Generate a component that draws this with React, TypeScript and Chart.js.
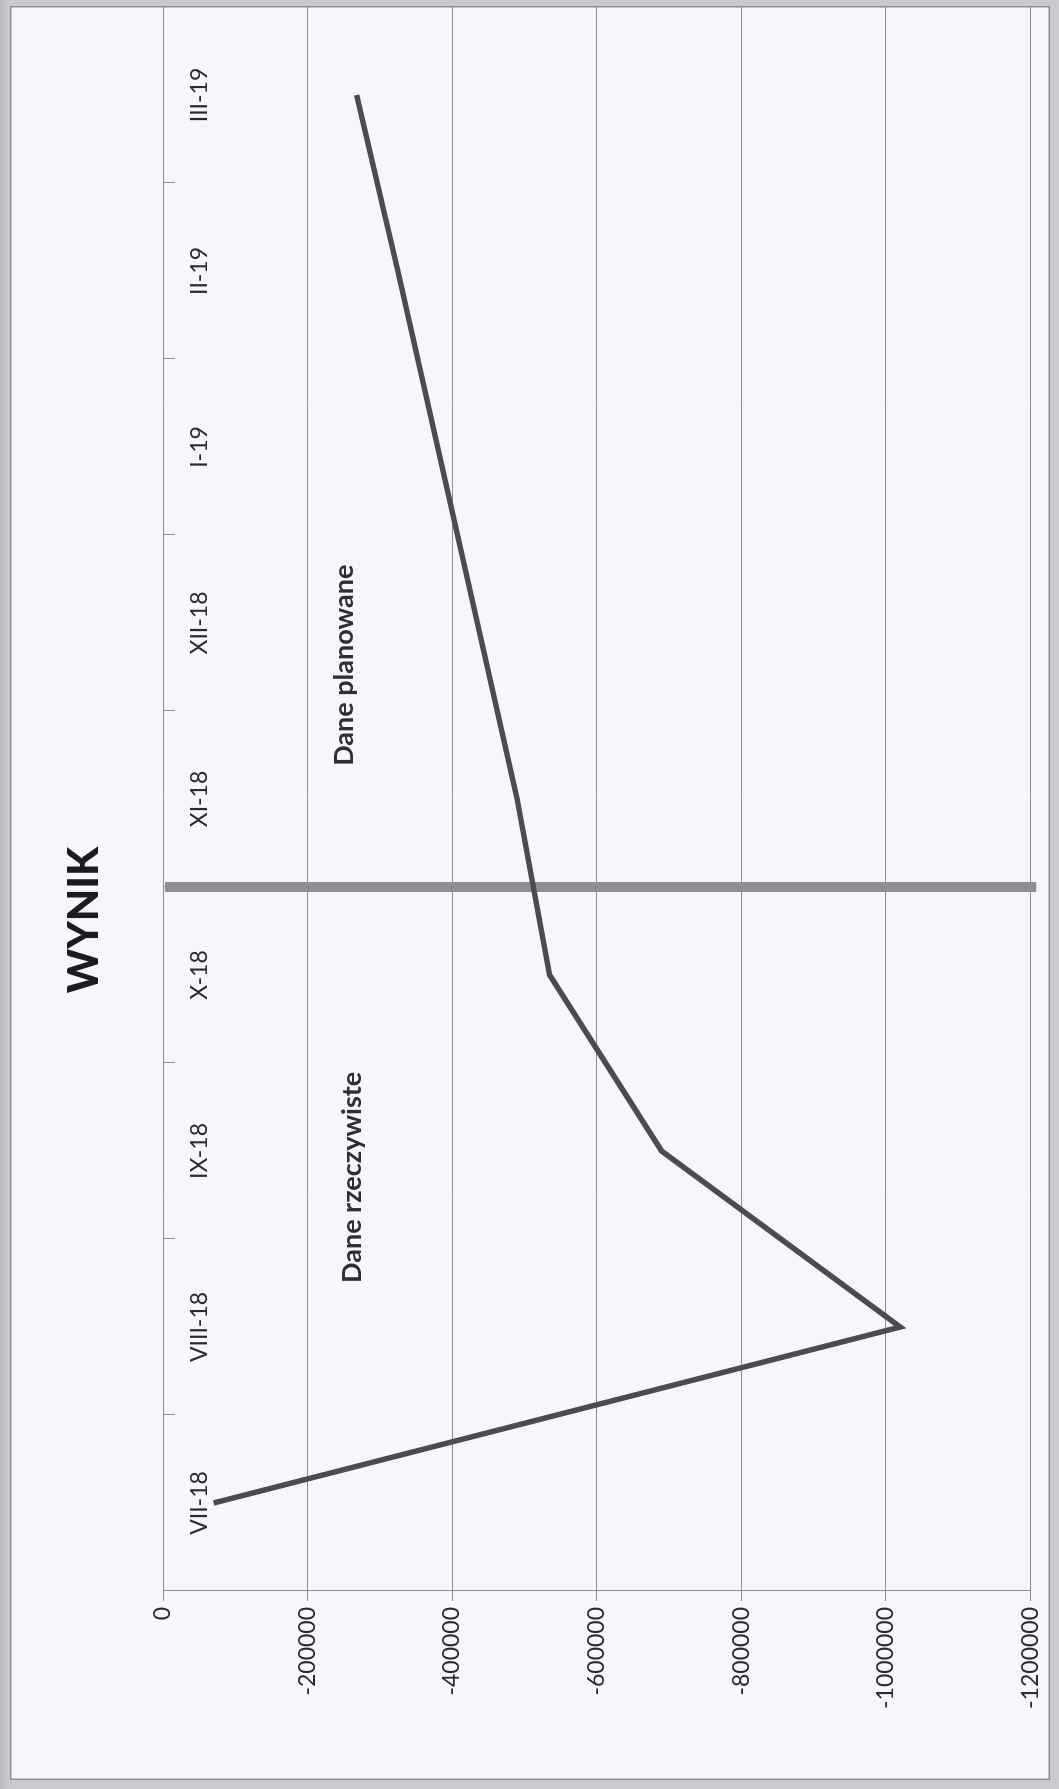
import React, { useEffect, useRef } from "react";
import { Chart, registerables } from "chart.js";

Chart.register(...registerables);

// ---- data ----
const TITLE = "WYNIK";
const MONTHS = ["VII-18", "VIII-18", "IX-18", "X-18", "XI-18", "XII-18", "I-19", "II-19", "III-19"];
const WYNIK = [-70000, -1020000, -690000, -535000, -490000, -435000, -380000, -325000, -268000];
const VALUE_MIN = -1200000;
const VALUE_MAX = 0;
const VALUE_STEP = 200000;
const SPLIT_AFTER = "X-18";
const NOTE_TEXTS = ["Dane rzeczywiste", "Dane planowane"];
const NOTE_AT = [1.85, 4.76];
const NOTE_VALUES = [-262000, -251000];

// ---- geometry (original, un-rotated chart) ----
const W0 = 1774;
const H0 = 1040;

const overlayPlugin = {
  id: "overlay",
  beforeDatasetsDraw(chart: any) {
    const { ctx, chartArea, scales } = chart;
    const xs = scales.x;
    const idx = MONTHS.indexOf(SPLIT_AFTER) + 0.5;
    const px = xs.getPixelForValue(idx);
    ctx.save();
    ctx.strokeStyle = "#8d8e91";
    ctx.lineWidth = 10;
    ctx.beginPath();
    ctx.moveTo(px, chartArea.top + 2);
    ctx.lineTo(px, chartArea.bottom + 6);
    ctx.stroke();
    ctx.restore();
  },
  afterDraw(chart: any) {
    const { ctx, scales } = chart;
    ctx.save();
    ctx.fillStyle = "#1c1c1e";
    ctx.textAlign = "center";
    ctx.textBaseline = "middle";
    ctx.font = "900 42px Lato";
    ctx.fillText(TITLE, 860, 74);
    ctx.font = "bold 27px Lato";
    ctx.fillStyle = "#2f2f31";
    NOTE_TEXTS.forEach((t, i) => {
      const x = scales.x.getPixelForValue(NOTE_AT[i]);
      const y = scales.y.getPixelForValue(NOTE_VALUES[i]);
      ctx.fillText(t, x, y);
    });
    ctx.restore();
  },
};

export default function App() {
  const ref = useRef<HTMLCanvasElement | null>(null);

  useEffect(() => {
    if (!ref.current) return;
    const gridColor = "#8c8d90";
    const textColor = "#2a2a2c";
    const chart = new Chart(ref.current, {
      type: "line",
      data: {
        labels: MONTHS,
        datasets: [
          {
            label: TITLE,
            data: WYNIK,
            borderColor: "#4b4c50",
            borderWidth: 5.5,
            pointRadius: 0,
            pointHoverRadius: 0,
            tension: 0,
            fill: false,
          },
        ],
      },
      options: {
        animation: false,
        responsive: false,
        devicePixelRatio: 1,
        layout: { padding: { top: 153, right: 1, bottom: 16, left: 0 } },
        plugins: {
          legend: { display: false },
          title: { display: false },
          tooltip: { enabled: false },
        },
        scales: {
          x: {
            type: "category",
            position: { y: 0 } as any,
            offset: true,
            grid: {
              display: true,
              drawOnChartArea: false,
              drawTicks: true,
              tickLength: 12,
              offset: true,
              color: gridColor,
              lineWidth: 1,
            },
            border: { display: false },
            ticks: {
              autoSkip: false,
              maxRotation: 0,
              minRotation: 0,
              padding: 11,
              color: textColor,
              font: { family: "Lato", size: 23 },
            },
            afterFit: (s: any) => {
              s.height = 0;
            },
          },
          y: {
            min: VALUE_MIN,
            max: VALUE_MAX,
            ticks: {
              stepSize: VALUE_STEP,
              padding: 6,
              color: textColor,
              font: { family: "Lato", size: 23 },
              callback: (v: any) => String(v),
            },
            grid: { color: gridColor, lineWidth: 1, tickLength: 10 },
            border: { display: true, color: gridColor, width: 1 },
            afterFit: (s: any) => {
              s.width = 189;
            },
          },
        },
      },
      plugins: [overlayPlugin],
    });
    return () => chart.destroy();
  }, []);

  return (
    <div
      style={{
        position: "absolute",
        left: 0,
        top: 0,
        width: 1059,
        height: 1789,
        background: "linear-gradient(90deg, #b9bbc1 0px, #c8cacf 10px, #c8cacf 100%)",
        overflow: "hidden",
      }}
    >
      <div
        style={{
          position: "absolute",
          left: 10,
          top: 6,
          width: 1040,
          height: 1774,
          background: "#f5f7fa",
          boxShadow: "inset 0 0 0 1.5px #8e8f93",
        }}
      >
        <div
          style={{
            position: "absolute",
            left: 0,
            top: 0,
            width: W0,
            height: H0,
            transformOrigin: "0 0",
            transform: `translateY(${W0}px) rotate(-90deg)`,
          }}
        >
          <canvas ref={ref} width={W0} height={H0} style={{ width: W0, height: H0, display: "block" }} />
        </div>
      </div>
    </div>
  );
}
